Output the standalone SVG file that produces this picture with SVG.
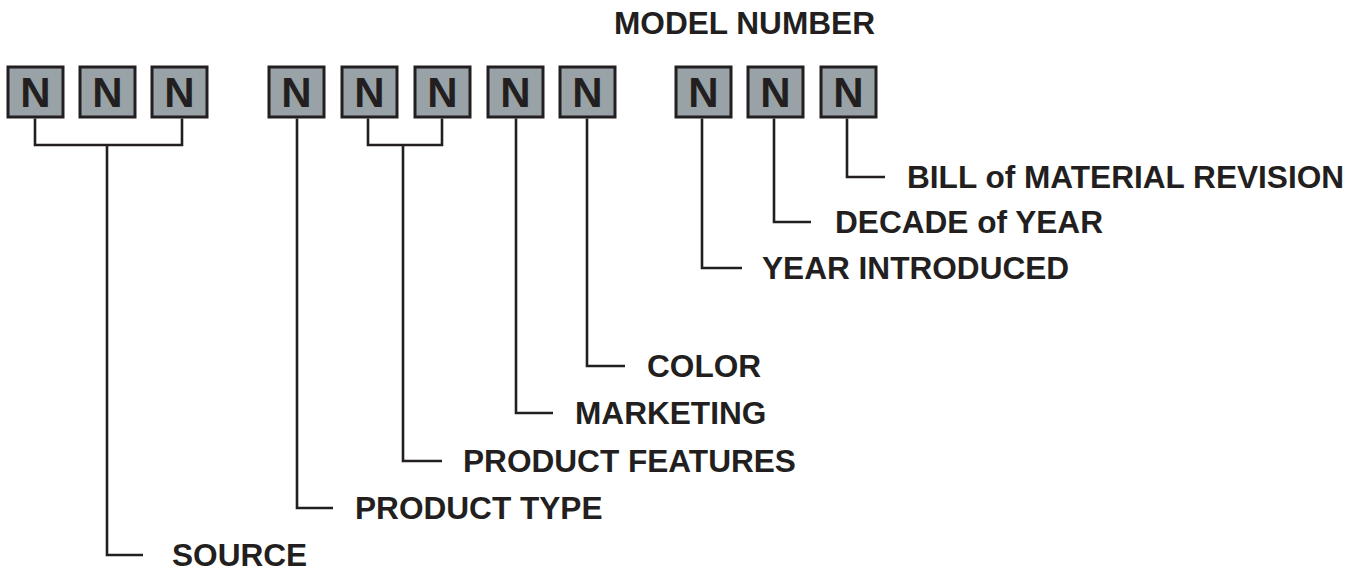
<svg xmlns="http://www.w3.org/2000/svg" width="1363" height="573" viewBox="0 0 1363 573">
<style>
.box{fill:#99a3a7;stroke:#231f20;stroke-width:3}
.n{font-family:"Liberation Sans",Arial,sans-serif;font-weight:bold;font-size:42px;fill:#231f20;text-anchor:middle}
.lbl{font-family:"Liberation Sans",Arial,sans-serif;font-weight:bold;font-size:31.6px;fill:#231f20}
.conn{fill:none;stroke:#231f20;stroke-width:2.6}
</style>
<rect width="1363" height="573" fill="#ffffff"/>
<text class="lbl" x="614" y="34">MODEL NUMBER</text>
<g id="n1"><rect class="box" x="8" y="67" width="55" height="50"/><text class="n" x="35.5" y="107">N</text></g>
<g id="n2"><rect class="box" x="80" y="67" width="55" height="50"/><text class="n" x="107.5" y="107">N</text></g>
<g id="n3"><rect class="box" x="152" y="67" width="55" height="50"/><text class="n" x="179.5" y="107">N</text></g>
<g id="n4"><rect class="box" x="269" y="67" width="55" height="50"/><text class="n" x="296.5" y="107">N</text></g>
<g id="n5"><rect class="box" x="342" y="67" width="55" height="50"/><text class="n" x="369.5" y="107">N</text></g>
<g id="n6"><rect class="box" x="415" y="67" width="55" height="50"/><text class="n" x="442.5" y="107">N</text></g>
<g id="n7"><rect class="box" x="488" y="67" width="55" height="50"/><text class="n" x="515.5" y="107">N</text></g>
<g id="n8"><rect class="box" x="560" y="67" width="55" height="50"/><text class="n" x="587.5" y="107">N</text></g>
<g id="n9"><rect class="box" x="676" y="67" width="55" height="50"/><text class="n" x="703.5" y="107">N</text></g>
<g id="n10"><rect class="box" x="748" y="67" width="55" height="50"/><text class="n" x="775.5" y="107">N</text></g>
<g id="n11"><rect class="box" x="821" y="67" width="55" height="50"/><text class="n" x="848.5" y="107">N</text></g>
<g id="connectors">
<path class="conn" d="M35 118.5V145H182V118.5M107 145V555H143"/>
<path class="conn" d="M297 118.5V508H333"/>
<path class="conn" d="M368 118.5V145H442V118.5M403 145V461H442"/>
<path class="conn" d="M516 118.5V413H553"/>
<path class="conn" d="M587 118.5V366H625"/>
<path class="conn" d="M702 118.5V268H742"/>
<path class="conn" d="M774 118.5V222H811"/>
<path class="conn" d="M847 118.5V177H885"/>
</g>
<g id="labels">
<text class="lbl" x="907" y="188">BILL of MATERIAL REVISION</text>
<text class="lbl" x="835" y="233">DECADE of YEAR</text>
<text class="lbl" x="762" y="279">YEAR INTRODUCED</text>
<text class="lbl" x="647" y="377">COLOR</text>
<text class="lbl" x="575" y="424">MARKETING</text>
<text class="lbl" x="463" y="472">PRODUCT FEATURES</text>
<text class="lbl" x="355" y="519">PRODUCT TYPE</text>
<text class="lbl" x="172" y="566">SOURCE</text>
</g>
</svg>
